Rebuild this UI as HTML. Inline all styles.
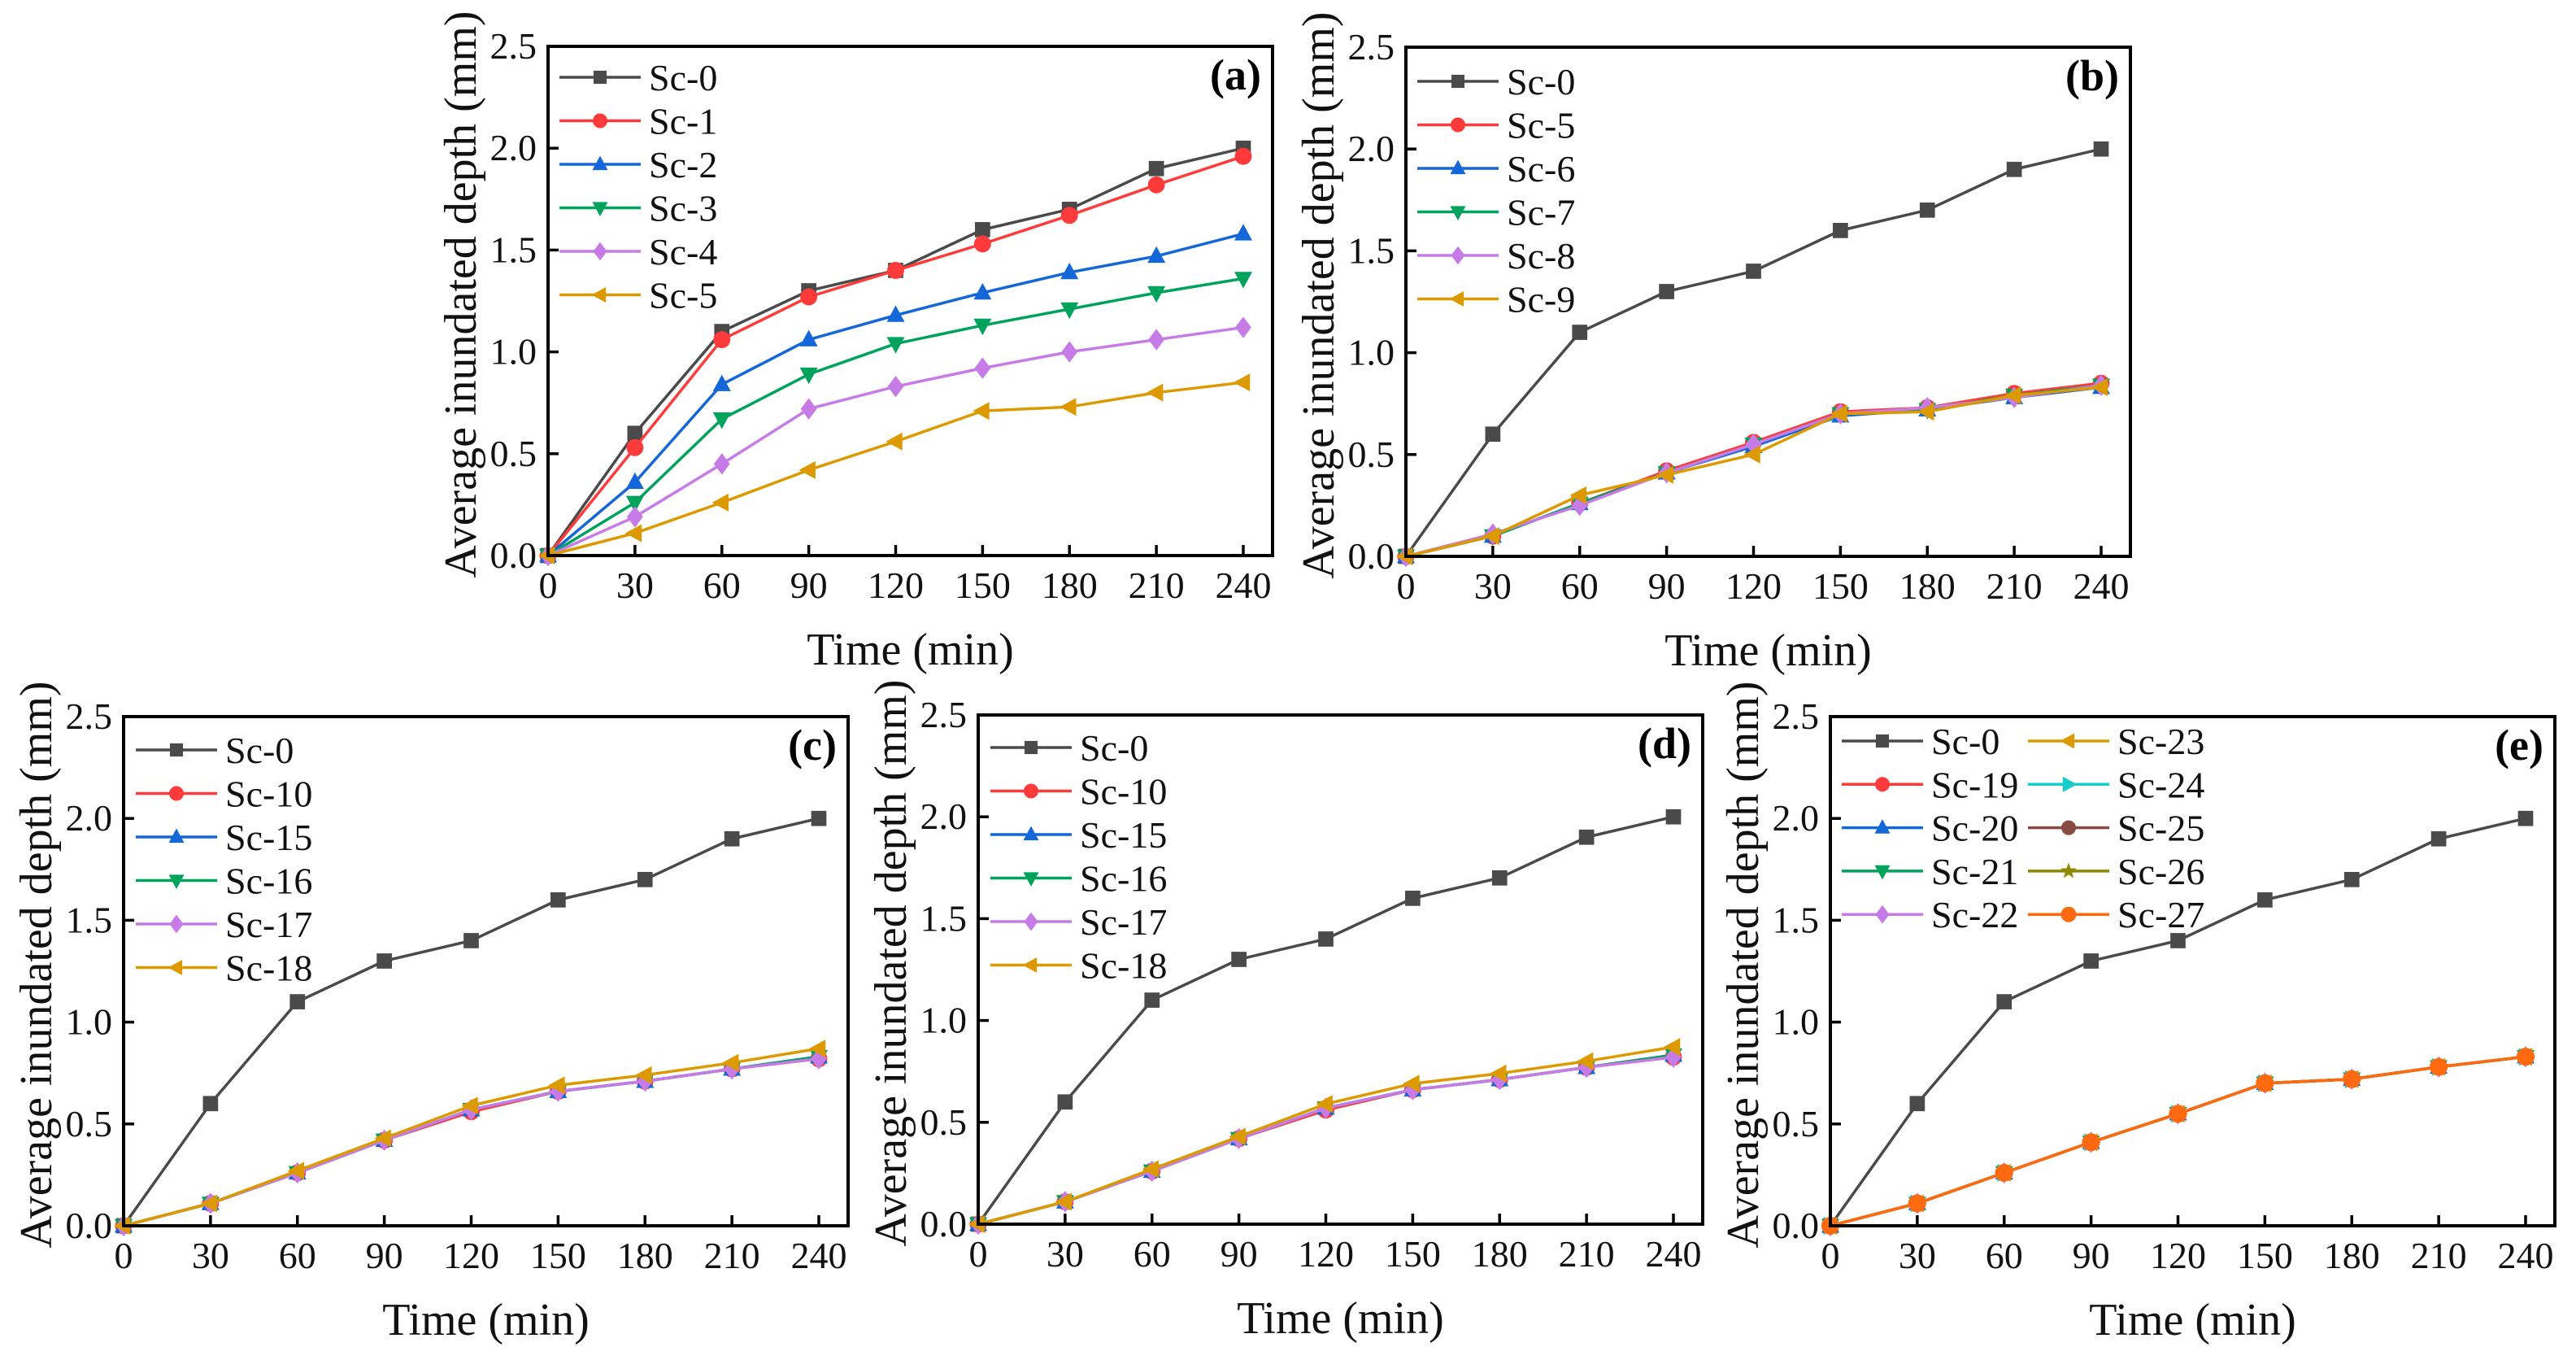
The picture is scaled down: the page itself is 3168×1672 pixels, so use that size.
<!DOCTYPE html>
<html><head><meta charset="utf-8"><style>
html,body{margin:0;padding:0;background:#fff;}
svg{display:block;}
svg text{font-family:"Liberation Serif","Times New Roman","DejaVu Serif",serif;}
</style></head><body>
<svg id="fig" width="3168" height="1672" viewBox="0 0 3168 1672" xmlns="http://www.w3.org/2000/svg"></svg>
<script>
const xTicks=[0,30,60,90,120,150,180,210,240];
const yTicks=[0,0.5,1.0,1.5,2.0,2.5];
const times=[0,30,60,90,120,150,180,210,240];
// panel (a)
const aNames=["Sc-0","Sc-1","Sc-2","Sc-3","Sc-4","Sc-5"];
const aSc0=[0,0.6,1.1,1.3,1.4,1.6,1.7,1.9,2.0];
const aSc1=[0,0.53,1.06,1.27,1.4,1.53,1.67,1.82,1.96];
const aSc2=[0,0.36,0.84,1.06,1.18,1.29,1.39,1.47,1.58];
const aSc3=[0,0.26,0.67,0.89,1.04,1.13,1.21,1.29,1.36];
const aSc4=[0,0.19,0.45,0.72,0.83,0.92,1.0,1.06,1.12];
const aSc5=[0,0.11,0.26,0.42,0.56,0.71,0.73,0.8,0.85];
// panel (b)
const bNames=["Sc-0","Sc-5","Sc-6","Sc-7","Sc-8","Sc-9"];
const bSc5=[0,0.1,0.26,0.42,0.56,0.71,0.73,0.8,0.85];
const bSc6=[0,0.1,0.26,0.41,0.54,0.69,0.72,0.78,0.83];
const bSc7=[0,0.1,0.26,0.41,0.55,0.7,0.72,0.79,0.84];
const bSc8=[0,0.11,0.25,0.41,0.55,0.7,0.73,0.78,0.84];
const bSc9=[0,0.1,0.3,0.4,0.5,0.7,0.71,0.79,0.83];
// panels (c),(d)
const cNames=["Sc-0","Sc-10","Sc-15","Sc-16","Sc-17","Sc-18"];
const cSc10=[0,0.11,0.26,0.42,0.56,0.66,0.71,0.77,0.82];
const cSc15=[0,0.11,0.26,0.42,0.57,0.66,0.71,0.77,0.83];
const cSc16=[0,0.11,0.26,0.42,0.57,0.66,0.71,0.77,0.83];
const cSc17=[0,0.11,0.26,0.42,0.57,0.66,0.71,0.77,0.82];
const cSc18=[0,0.11,0.27,0.43,0.59,0.69,0.74,0.8,0.87];
// panel (e)
const eNames=["Sc-0","Sc-19","Sc-20","Sc-21","Sc-22","Sc-23","Sc-24","Sc-25","Sc-26","Sc-27"];
const eSc19=[0,0.11,0.26,0.41,0.55,0.7,0.72,0.78,0.83];
const eSc20=[0,0.11,0.26,0.41,0.55,0.7,0.72,0.78,0.83];
const eSc21=[0,0.11,0.26,0.41,0.55,0.7,0.72,0.78,0.83];
const eSc22=[0,0.11,0.26,0.41,0.55,0.7,0.72,0.78,0.83];
const eSc23=[0,0.11,0.26,0.41,0.55,0.7,0.72,0.78,0.83];
const eSc24=[0,0.11,0.26,0.41,0.55,0.7,0.72,0.78,0.83];
const eSc25=[0,0.11,0.26,0.41,0.55,0.7,0.72,0.78,0.83];
const eSc26=[0,0.11,0.26,0.41,0.55,0.7,0.72,0.78,0.83];
const eSc27=[0,0.11,0.26,0.41,0.55,0.7,0.72,0.78,0.83];

const C={gray:"#4a4a4a",red:"#ff3a3a",blue:"#1467d9",green:"#00a35c",purple:"#c67be6",gold:"#dc9a00",cyan:"#19cccc",brown:"#8a4a44",olive:"#8c8a00",orange:"#ff6a10"};
const NS="http://www.w3.org/2000/svg";
const svg=document.getElementById("fig");
function mk(tag,attrs,parent){const e=document.createElementNS(NS,tag);for(const k in attrs)e.setAttribute(k,attrs[k]);if(tag==="text")e.setAttribute("font-family","'Liberation Serif', 'DejaVu Serif', serif");(parent||svg).appendChild(e);return e;}

function marker(g,type,x,y,col,s){
  let e;
  const r=s/2;
  if(type==="square")e=mk("rect",{x:x-r*0.85,y:y-r*0.85,width:r*1.7,height:r*1.7,fill:col},g);
  else if(type==="circle")e=mk("circle",{cx:x,cy:y,r:r*0.95,fill:col},g);
  else if(type==="hex")e=mk("circle",{cx:x,cy:y,r:r,fill:col},g);
  else{
    let p;
    if(type==="up")p=[[x,y-r*1.1],[x+r,y+r*0.75],[x-r,y+r*0.75]];
    else if(type==="down")p=[[x,y+r*1.1],[x+r,y-r*0.75],[x-r,y-r*0.75]];
    else if(type==="left")p=[[x-r*1.1,y],[x+r*0.75,y-r],[x+r*0.75,y+r]];
    else if(type==="right")p=[[x+r*1.1,y],[x-r*0.75,y-r],[x-r*0.75,y+r]];
    else if(type==="diamond")p=[[x,y-r*1.2],[x+r*0.9,y],[x,y+r*1.2],[x-r*0.9,y]];
    else if(type==="star"){p=[];for(let i=0;i<10;i++){const a=-Math.PI/2+i*Math.PI/5;const rr=i%2?r*0.45:r*1.1;p.push([x+rr*Math.cos(a),y+rr*Math.sin(a)]);}}
    e=mk("polygon",{points:p.map(q=>q.join(",")).join(" "),fill:col},g);
  }
  
  
  return e;
}

function panel(id,L,T,label,series,legendCols){
  const W=891,H=626,X240=855;
  const sx=v=>L+v*X240/240;
  const sy=v=>T+H-v*H/2.5;
  const g=mk("g",{});
  
  
  series.forEach(s=>{
    const sg=mk("g",{},g);
    
    
    const pl=mk("polyline",{points:times.map((t,i)=>sx(t)+","+sy(s.v[i])).join(" "),fill:"none",stroke:s.c,"stroke-width":3.5,"stroke-linejoin":"round"},sg);
    
    
    times.forEach((t,i)=>marker(sg,s.m,sx(t),sy(s.v[i]),s.c,22));
  });
  const fr=mk("rect",{x:L,y:T,width:W,height:H,fill:"none",stroke:"#000","stroke-width":4},g);
  
  
  xTicks.forEach(t=>{
    const x=sx(t);
    const tk=mk("line",{x1:x,x2:x,y1:T+H,y2:T+H-13,stroke:"#000","stroke-width":3.5},g);
    
    
    const tx=mk("text",{x:x,y:T+H+52,"font-size":46,"text-anchor":"middle",fill:"#111"},g);
    tx.textContent=t;
    
    
  });
  yTicks.forEach(t=>{
    const y=sy(t);
    const tk=mk("line",{x1:L,x2:L+13,y1:y,y2:y,stroke:"#000","stroke-width":3.5},g);
    
    
    const tx=mk("text",{x:L-14,y:y+15,"font-size":46,"text-anchor":"end",fill:"#111"},g);
    tx.textContent=t.toFixed(1);
    
    
  });
  const xt=mk("text",{x:L+W/2,y:T+H+134,"font-size":56,"text-anchor":"middle",fill:"#111"},g);
  xt.textContent="Time (min)";
  
  
  const yt=mk("text",{x:0,y:0,"font-size":56,"text-anchor":"middle",fill:"#111",transform:`translate(${L-89},${T+H/2-8}) rotate(-90)`},g);
  yt.textContent="Average inundated depth (mm)";
  
  
  const pl=mk("text",{x:L+W-14,y:T+53,"font-size":54,"font-weight":"bold","text-anchor":"end",fill:"#000"},g);
  pl.textContent=label;
  
  
  const lg=mk("g",{},g);
  
  
  const perCol=Math.ceil(series.length/legendCols.length);
  series.forEach((s,i)=>{
    const col=Math.floor(i/perCol),row=i%perCol;
    const lx=L+legendCols[col][0],rowH=legendCols[col][1],ly=T+legendCols[col][2]+row*rowH;
    const eg=mk("g",{},lg);
    
    
    mk("line",{x1:lx,x2:lx+100,y1:ly,y2:ly,stroke:s.c,"stroke-width":3.5},eg);
    marker(eg,s.m,lx+50,ly,s.c,19);
    const tx=mk("text",{x:lx+110,y:ly+16,"font-size":46,fill:"#111"},eg);
    tx.textContent=s.name;
  });
}
const mks=["square","circle","up","down","diamond","left"];
const cols6=[C.gray,C.red,C.blue,C.green,C.purple,C.gold];
function build(names,vals){return names.map((n,i)=>({name:n,v:vals[i],c:cols6[i],m:mks[i]}));}

panel("a",674,57,"(a)",build(aNames,[aSc0,aSc1,aSc2,aSc3,aSc4,aSc5]),[[14,53.5,38]]);
panel("b",1729,58,"(b)",build(bNames,[aSc0,bSc5,bSc6,bSc7,bSc8,bSc9]),[[14,53.5,42]]);
panel("c",152,881,"(c)",build(cNames,[aSc0,cSc10,cSc15,cSc16,cSc17,cSc18]),[[15,53.5,41]]);
panel("d",1203,879,"(d)",build(cNames,[aSc0,cSc10,cSc15,cSc16,cSc17,cSc18]),[[15,53.5,40]]);
const eMk=["square","circle","up","down","diamond","left","right","circle","star","hex"];
const eCol=[C.gray,C.red,C.blue,C.green,C.purple,C.gold,C.cyan,C.brown,C.olive,C.orange];
const eVals=[aSc0,eSc19,eSc20,eSc21,eSc22,eSc23,eSc24,eSc25,eSc26,eSc27];
panel("e",2251,881,"(e)",eNames.map((n,i)=>({name:n,v:eVals[i],c:eCol[i],m:eMk[i]})),[[14,53.3,30],[243,53.3,30]]);
</script>
</body></html>
